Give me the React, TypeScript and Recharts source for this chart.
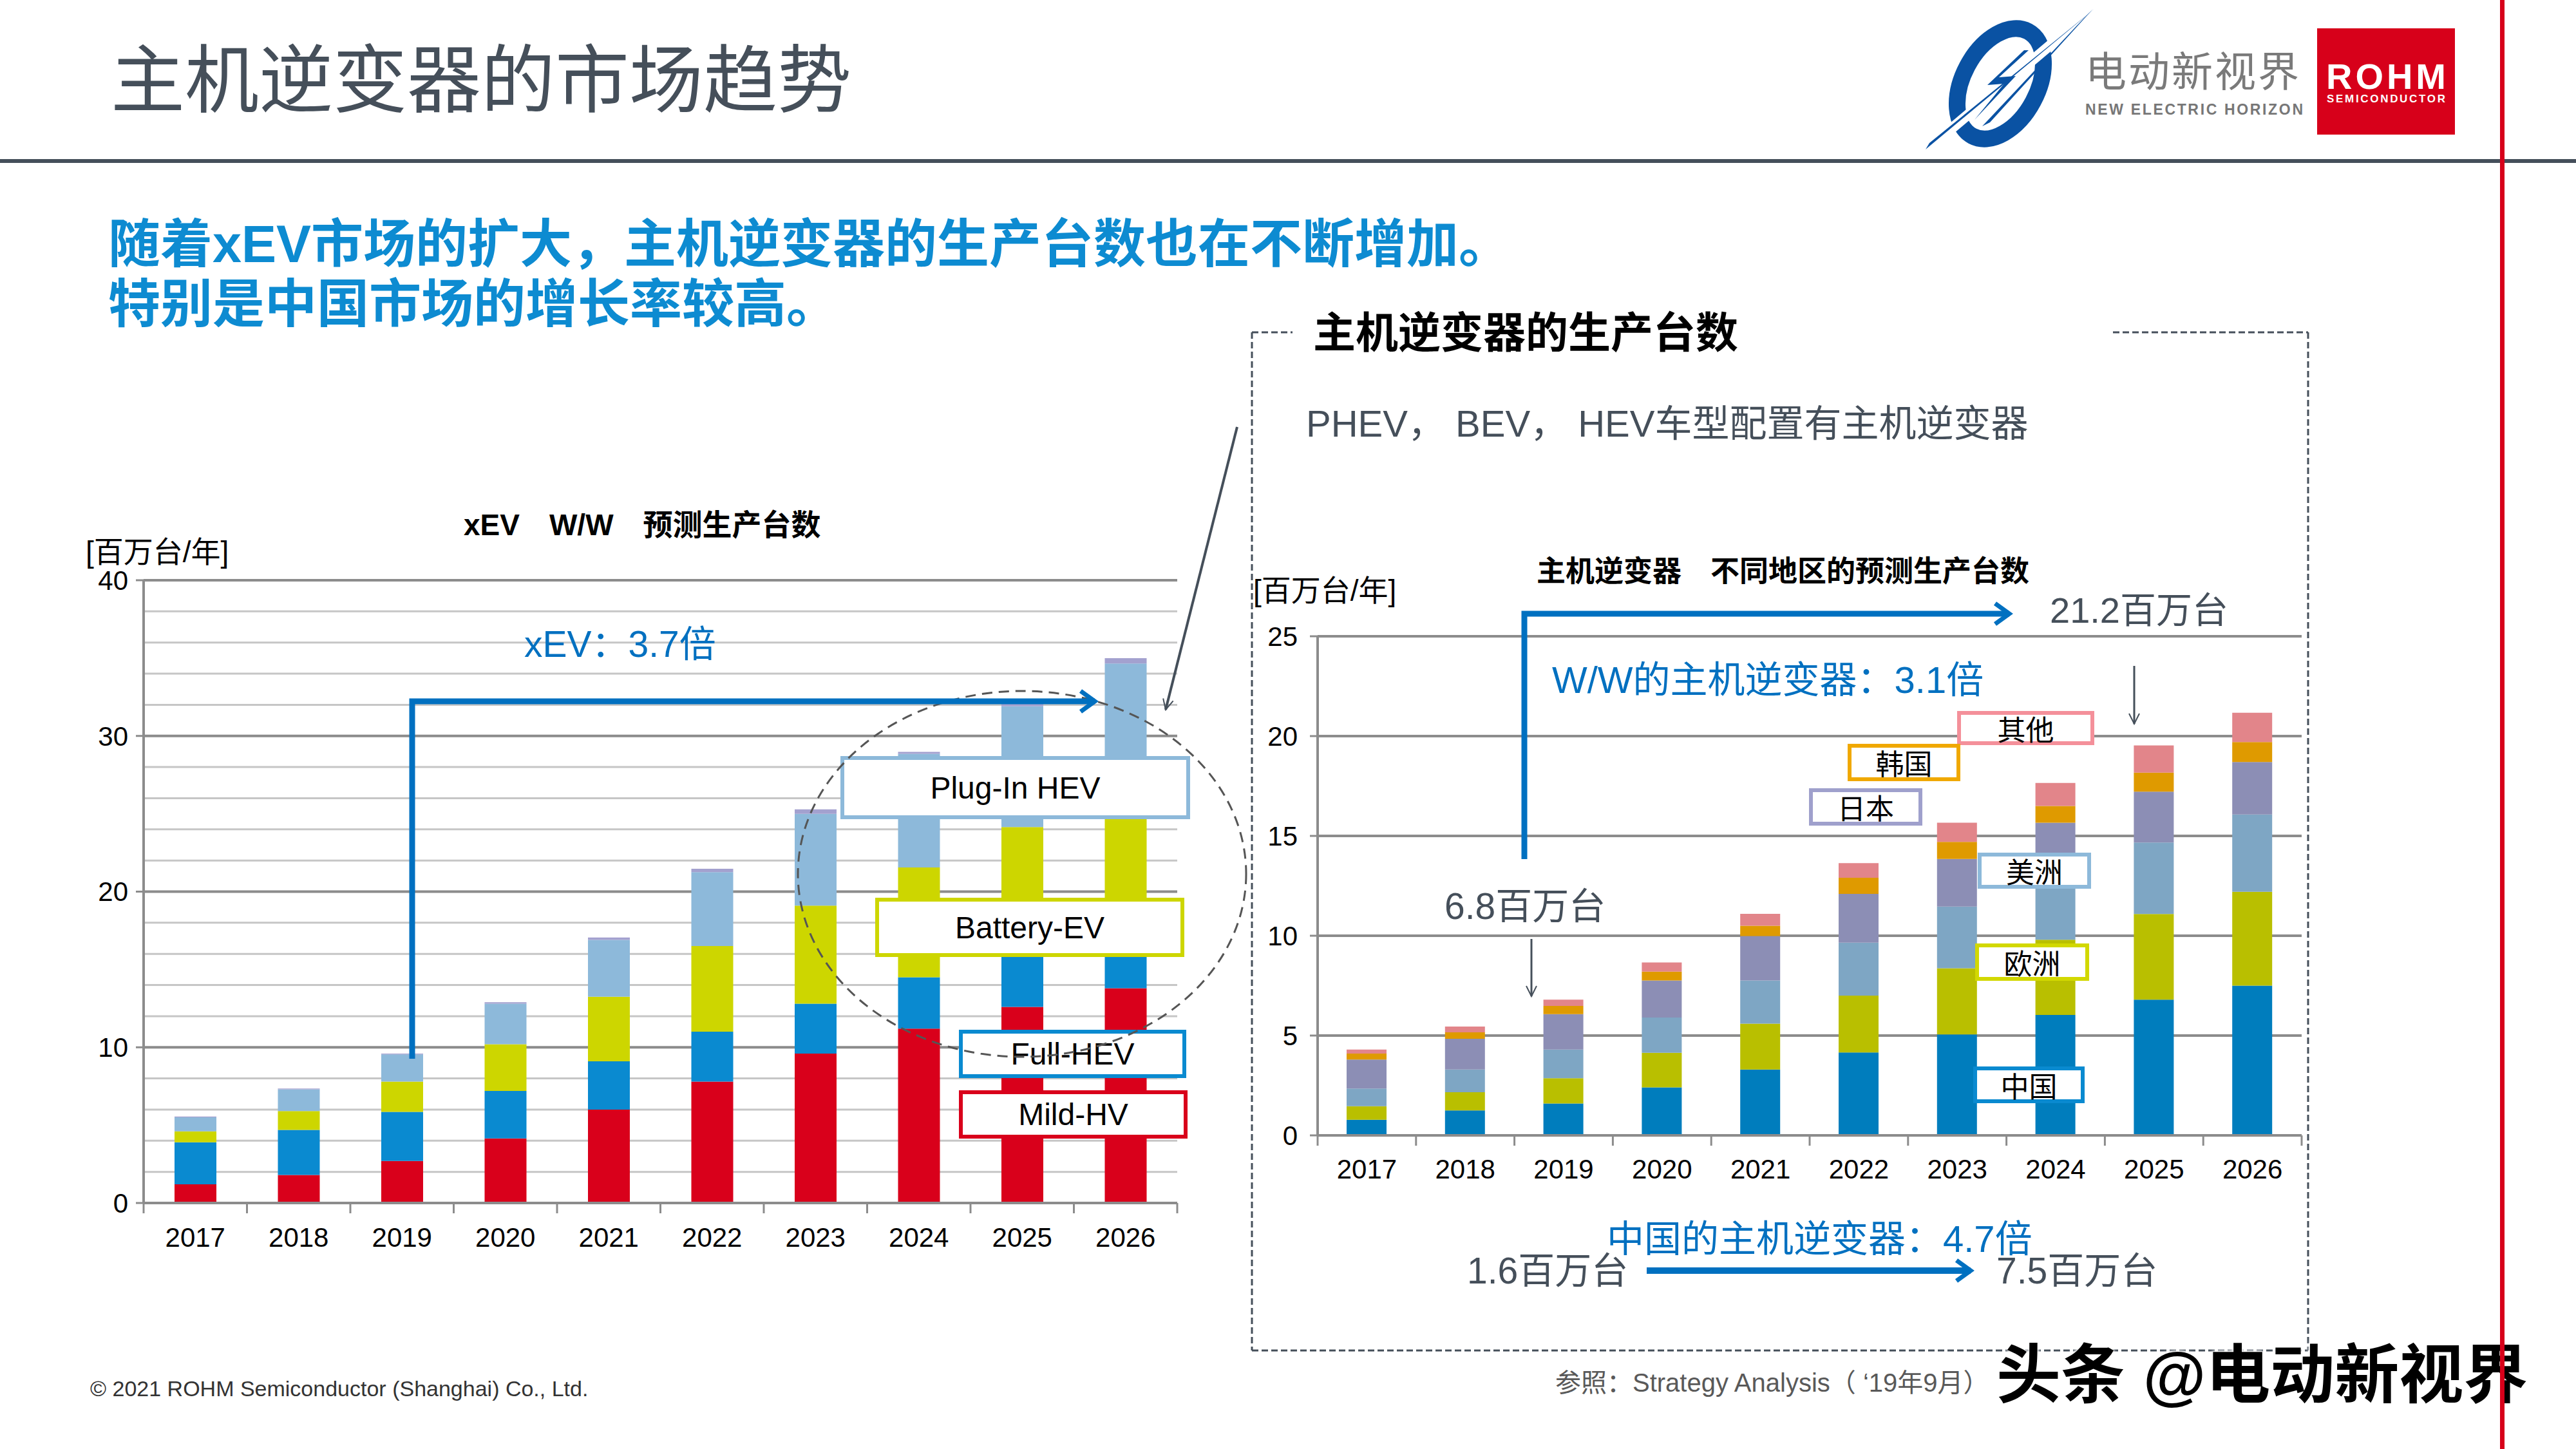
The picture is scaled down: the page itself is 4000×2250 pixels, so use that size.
import React from 'react';
import { BarChart, Bar, XAxis, YAxis, CartesianGrid } from 'recharts';

// xEV W/W forecast, million units / year
const years = ['2017', '2018', '2019', '2020', '2021', '2022', '2023', '2024', '2025', '2026'];
const mildHV = [1.2, 1.8, 2.7, 4.15, 6.0, 7.8, 9.6, 11.2, 12.6, 13.8];
const fullHEV = [2.7, 2.9, 3.15, 3.05, 3.1, 3.2, 3.2, 3.3, 3.6, 3.8];
const batteryEV = [0.7, 1.2, 1.95, 3.0, 4.15, 5.5, 6.3, 7.05, 7.95, 8.5];
const plugInHEV = [0.9, 1.4, 1.75, 2.6, 3.65, 4.75, 5.9, 7.3, 7.75, 8.55];
const fcv = [0.05, 0.05, 0.05, 0.1, 0.15, 0.22, 0.28, 0.13, 0.22, 0.35];

// main inverter by region, million units / year
const china = [0.78, 1.25, 1.6, 2.4, 3.3, 4.15, 5.06, 6.03, 6.8, 7.5];
const europe = [0.68, 0.91, 1.26, 1.74, 2.3, 2.85, 3.31, 3.77, 4.29, 4.7];
const america = [0.89, 1.14, 1.44, 1.76, 2.16, 2.65, 3.09, 3.4, 3.58, 3.87];
const japan = [1.45, 1.54, 1.77, 1.86, 2.22, 2.45, 2.39, 2.46, 2.55, 2.63];
const korea = [0.3, 0.32, 0.41, 0.44, 0.52, 0.8, 0.85, 0.84, 0.95, 1.0];
const others = [0.2, 0.29, 0.32, 0.46, 0.6, 0.74, 0.96, 1.15, 1.36, 1.47];

const leftTicks = [0, 10, 20, 30, 40];
const leftMinor = [2, 4, 6, 8, 12, 14, 16, 18, 22, 24, 26, 28, 32, 34, 36, 38];
const leftMajor = [10, 20, 30, 40];
const rightTicks = [0, 5, 10, 15, 20, 25];

const xevData = years.map((year, i) => ({
  year,
  mildHV: mildHV[i],
  fullHEV: fullHEV[i],
  batteryEV: batteryEV[i],
  plugInHEV: plugInHEV[i],
  fcv: fcv[i],
}));

const regionData = years.map((year, i) => ({
  year,
  china: china[i],
  europe: europe[i],
  america: america[i],
  japan: japan[i],
  korea: korea[i],
  others: others[i],
}));

const FONT = "'Liberation Sans', Arial, 'Noto Sans CJK SC', sans-serif";
const SLATE = '#454f5a';
const BLUE = '#0070c0';
const AXIS = '#8c8c8c';

const yearTick = (band: number, dy: number) => (props: any) => {
  const { x, y, payload } = props;
  const last = payload.value === years[years.length - 1];
  return (
    <g>
      <line x1={x - band / 2} x2={x - band / 2} y1={y} y2={y + 16} stroke={AXIS} strokeWidth={3} />
      {last && <line x1={x + band / 2} x2={x + band / 2} y1={y} y2={y + 16} stroke={AXIS} strokeWidth={3} />}
      <text x={x} y={y + dy} textAnchor="middle" dominantBaseline="central" fontSize={42} fill="#000" fontFamily={FONT}>
        {payload.value}
      </text>
    </g>
  );
};

const T: React.FC<{ x: number; y: number; size: number; color?: string; bold?: boolean; children: React.ReactNode; style?: React.CSSProperties }> = ({ x, y, size, color = '#000', bold, children, style }) => (
  <div
    style={{
      position: 'absolute',
      left: x,
      top: y - size * 0.6,
      fontSize: size,
      lineHeight: `${size * 1.2}px`,
      color,
      fontWeight: bold ? 700 : 400,
      whiteSpace: 'nowrap',
      fontFamily: FONT,
      ...style,
    }}
  >
    {children}
  </div>
);

const Box: React.FC<{ x1: number; y1: number; x2: number; y2: number; color: string; size: number; children: React.ReactNode }> = ({ x1, y1, x2, y2, color, size, children }) => (
  <div
    style={{
      position: 'absolute',
      left: x1,
      top: y1,
      width: x2 - x1,
      height: y2 - y1,
      boxSizing: 'border-box',
      border: `6px solid ${color}`,
      background: '#fff',
      display: 'flex',
      alignItems: 'center',
      justifyContent: 'center',
      fontSize: size,
      fontFamily: FONT,
      color: '#000',
      whiteSpace: 'nowrap',
    }}
  >
    {children}
  </div>
);

const App: React.FC = () => {
  return (
    <div style={{ position: 'absolute', left: 0, top: 0, width: 4000, height: 2250, background: '#fff', overflow: 'hidden', fontFamily: FONT }}>
      {/* header */}
      <T x={172} y={125} size={115} color={SLATE}>主机逆变器的市场趋势</T>
      <div style={{ position: 'absolute', left: 0, top: 247, width: 4000, height: 6, background: SLATE }} />

      {/* headline */}
      <T x={168} y={380} size={81} color="#0d8bd1" bold>随着xEV市场的扩大，主机逆变器的生产台数也在不断增加。</T>
      <T x={168} y={473} size={81} color="#0d8bd1" bold>特别是中国市场的增长率较高。</T>

      {/* left chart texts */}
      <T x={720} y={816} size={46} bold>xEV　W/W　预测生产台数</T>
      <T x={133} y={858} size={46}>[百万台/年]</T>

      <div style={{ position: 'absolute', left: 0, top: 800 }}>
        <BarChart width={1900} height={1168} data={xevData} margin={{ top: 101, right: 72, bottom: 0, left: 163 }}>
          <CartesianGrid vertical={false} horizontalValues={leftMinor} stroke="#c6c6c6" strokeWidth={3} />
          <CartesianGrid vertical={false} horizontalValues={leftMajor} stroke={AXIS} strokeWidth={4} />
          <XAxis dataKey="year" height={100} tickSize={0} tickMargin={0} tickLine={false} axisLine={{ stroke: AXIS, strokeWidth: 4 }} tick={yearTick(160.5, 53)} interval={0} />
          <YAxis type="number" domain={[0, 40]} ticks={leftTicks} width={60} tickSize={12} tickMargin={12} axisLine={{ stroke: AXIS, strokeWidth: 4 }} tickLine={{ stroke: AXIS, strokeWidth: 3 }} tick={{ fontSize: 42, fill: '#000', fontFamily: FONT }} interval={0} />
          <Bar dataKey="mildHV" stackId="a" fill="#d9001b" barSize={65} isAnimationActive={false} />
          <Bar dataKey="fullHEV" stackId="a" fill="#0a8ad0" barSize={65} isAnimationActive={false} />
          <Bar dataKey="batteryEV" stackId="a" fill="#cdd600" barSize={65} isAnimationActive={false} />
          <Bar dataKey="plugInHEV" stackId="a" fill="#8db9da" barSize={65} isAnimationActive={false} />
          <Bar dataKey="fcv" stackId="a" fill="#a3a1cf" barSize={65} isAnimationActive={false} />
        </BarChart>
      </div>

      <T x={814} y={1000} size={57} color={BLUE}>xEV：3.7倍</T>

      <Box x1={1305} y1={1174} x2={1848} y2={1272} color="#8db9da" size={48}>Plug-In HEV</Box>
      <Box x1={1359} y1={1394} x2={1839} y2={1486} color="#cdd600" size={48}>Battery-EV</Box>
      <Box x1={1489} y1={1599} x2={1842} y2={1674} color="#0a8ad0" size={48}>Full-HEV</Box>
      <Box x1={1489} y1={1693} x2={1844} y2={1768} color="#d9001b" size={48}>Mild-HV</Box>

      {/* right panel */}
      <T x={2039} y={518} size={66} bold>主机逆变器的生产台数</T>
      <T x={2028} y={658} size={58} color={SLATE}>PHEV， BEV， HEV车型配置有主机逆变器</T>
      <T x={2386} y={888} size={45} bold>主机逆变器　不同地区的预测生产台数</T>
      <T x={1946} y={918} size={46}>[百万台/年]</T>

      <div style={{ position: 'absolute', left: 1900, top: 900 }}>
        <BarChart width={1750} height={963} data={regionData} margin={{ top: 88, right: 76, bottom: 0, left: 86 }}>
          <CartesianGrid vertical={false} horizontalValues={[5, 10, 15, 20, 25]} stroke={AXIS} strokeWidth={4} />
          <XAxis dataKey="year" height={100} tickSize={0} tickMargin={0} tickLine={false} axisLine={{ stroke: AXIS, strokeWidth: 4 }} tick={yearTick(152.8, 52)} interval={0} />
          <YAxis type="number" domain={[0, 25]} ticks={rightTicks} width={60} tickSize={12} tickMargin={19} axisLine={{ stroke: AXIS, strokeWidth: 4 }} tickLine={{ stroke: AXIS, strokeWidth: 3 }} tick={{ fontSize: 42, fill: '#000', fontFamily: FONT }} interval={0} />
          <Bar dataKey="china" stackId="r" fill="#007dbd" barSize={62} isAnimationActive={false} />
          <Bar dataKey="europe" stackId="r" fill="#b9bf00" barSize={62} isAnimationActive={false} />
          <Bar dataKey="america" stackId="r" fill="#7ea6c4" barSize={62} isAnimationActive={false} />
          <Bar dataKey="japan" stackId="r" fill="#8c8eb5" barSize={62} isAnimationActive={false} />
          <Bar dataKey="korea" stackId="r" fill="#df9a00" barSize={62} isAnimationActive={false} />
          <Bar dataKey="others" stackId="r" fill="#e2858a" barSize={62} isAnimationActive={false} />
        </BarChart>
      </div>

      <T x={3183} y={948} size={56} color={SLATE}>21.2百万台</T>
      <T x={2410} y={1056} size={58} color={BLUE}>W/W的主机逆变器：3.1倍</T>
      <T x={2243} y={1407} size={57} color={SLATE}>6.8百万台</T>
      <T x={2495} y={1924} size={58} color={BLUE}>中国的主机逆变器：4.7倍</T>
      <T x={2278} y={1973} size={57} color={SLATE}>1.6百万台</T>
      <T x={3100} y={1973} size={57} color={SLATE}>7.5百万台</T>

      <Box x1={3039} y1={1104} x2={3252} y2={1157} color="#f4909a" size={44}>其他</Box>
      <Box x1={2869} y1={1155} x2={3044} y2={1213} color="#f0a800" size={44}>韩国</Box>
      <Box x1={2809} y1={1224} x2={2985} y2={1282} color="#9fa0cc" size={44}>日本</Box>
      <Box x1={3071} y1={1324} x2={3247} y2={1380} color="#8db9da" size={44}>美洲</Box>
      <Box x1={3067} y1={1465} x2={3244} y2={1523} color="#d2d800" size={44}>欧洲</Box>
      <Box x1={3064} y1={1656} x2={3237} y2={1713} color="#0a8ad0" size={44}>中国</Box>

      {/* footer */}
      <T x={140} y={2156} size={34} color="#333">© 2021  ROHM Semiconductor (Shanghai) Co., Ltd.</T>
      <T x={2415} y={2147} size={40} color="#595959">参照：Strategy Analysis（ ‘19年9月）</T>

      {/* overlay: frames, arrows, logo */}
      <svg width={4000} height={2250} style={{ position: 'absolute', left: 0, top: 0 }}>
        <defs>
          <marker id="openHead" viewBox="0 0 20 20" refX="18" refY="10" markerWidth="20" markerHeight="20" markerUnits="userSpaceOnUse" orient="auto">
            <path d="M2,2 L18,10 L2,18" fill="none" stroke={SLATE} strokeWidth={2} />
          </marker>
          <marker id="blueHead" viewBox="0 0 20 20" refX="15" refY="10" markerWidth="40" markerHeight="40" markerUnits="userSpaceOnUse" orient="auto">
            <path d="M4,2 L15,10 L4,18" fill="none" stroke={BLUE} strokeWidth={3.5} />
          </marker>
        </defs>

        {/* dashed frame */}
        <g stroke={SLATE} strokeWidth={3} strokeDasharray="10 5" fill="none">
          <line x1={1944} y1={516} x2={2007} y2={516} />
          <line x1={3281} y1={516} x2={3584} y2={516} />
          <line x1={1944} y1={516} x2={1944} y2={2097} />
          <line x1={3584} y1={516} x2={3584} y2={2097} />
          <line x1={1944} y1={2097} x2={3584} y2={2097} />
        </g>

        {/* left annotations */}
        <ellipse cx={1587} cy={1357} rx={348} ry={284} fill="none" stroke="#555" strokeWidth={3} strokeDasharray="16 10" />
        <polyline points="640,1644 640,1089 1700,1089" fill="none" stroke={BLUE} strokeWidth={9} markerEnd="url(#blueHead)" />
        <line x1={1921} y1={663} x2={1810} y2={1102} stroke={SLATE} strokeWidth={4} markerEnd="url(#openHead)" />

        {/* right annotations */}
        <polyline points="2367,1334 2367,953 3120,953" fill="none" stroke={BLUE} strokeWidth={9} markerEnd="url(#blueHead)" />
        <line x1={2378} y1={1458} x2={2378} y2={1547} stroke={SLATE} strokeWidth={3} markerEnd="url(#openHead)" />
        <line x1={3314} y1={1034} x2={3314} y2={1124} stroke={SLATE} strokeWidth={3} markerEnd="url(#openHead)" />
        <line x1={2557} y1={1973} x2={3060} y2={1973} stroke={BLUE} strokeWidth={10} markerEnd="url(#blueHead)" />

        {/* logo */}
        <g transform="rotate(28 3106 130)">
          <ellipse cx={3106} cy={130} rx={58} ry={92} fill="none" stroke="#0a52a3" strokeWidth={26} />
        </g>
        <line x1={3250} y1={14} x2={2992} y2={232} stroke="#fff" strokeWidth={16} />
        <polygon points="3250,14 3090,190 3078,196 3236,28" fill="#0a52a3" />
        <polygon points="3252,14 2990,232 2996,222" fill="#0a52a3" />
        <polygon points="3143,78 3086,132 3112,130 3066,186 3130,118 3104,120 3150,78" fill="#0a52a3" />
        <text x={3238} y={134} fontSize={64} fill="#7a7a7a" fontFamily={FONT} textLength={332}>电动新视界</text>
        <text x={3238} y={178} fontSize={23} fontWeight={700} fill="#777" fontFamily={FONT} textLength={338}>NEW ELECTRIC HORIZON</text>
        <rect x={3598} y={44} width={214} height={165} fill="#d7001a" />
        <text x={3705} y={138} fontSize={56} fontWeight={700} fill="#fff" textAnchor="middle" fontFamily={FONT} textLength={186}>ROHM</text>
        <text x={3705} y={159} fontSize={17} fontWeight={700} fill="#fff" textAnchor="middle" fontFamily={FONT} textLength={184}>SEMICONDUCTOR</text>
      </svg>

      {/* watermark */}
      <T x={3100} y={2135} size={100} bold style={{ textShadow: '0 0 4px #fff, 0 0 4px #fff, 0 0 8px #fff' }}>头条 @电动新视界</T>

      <div style={{ position: 'absolute', left: 3882, top: 0, width: 7, height: 2250, background: '#d7001a' }} />
    </div>
  );
};

export default App;
